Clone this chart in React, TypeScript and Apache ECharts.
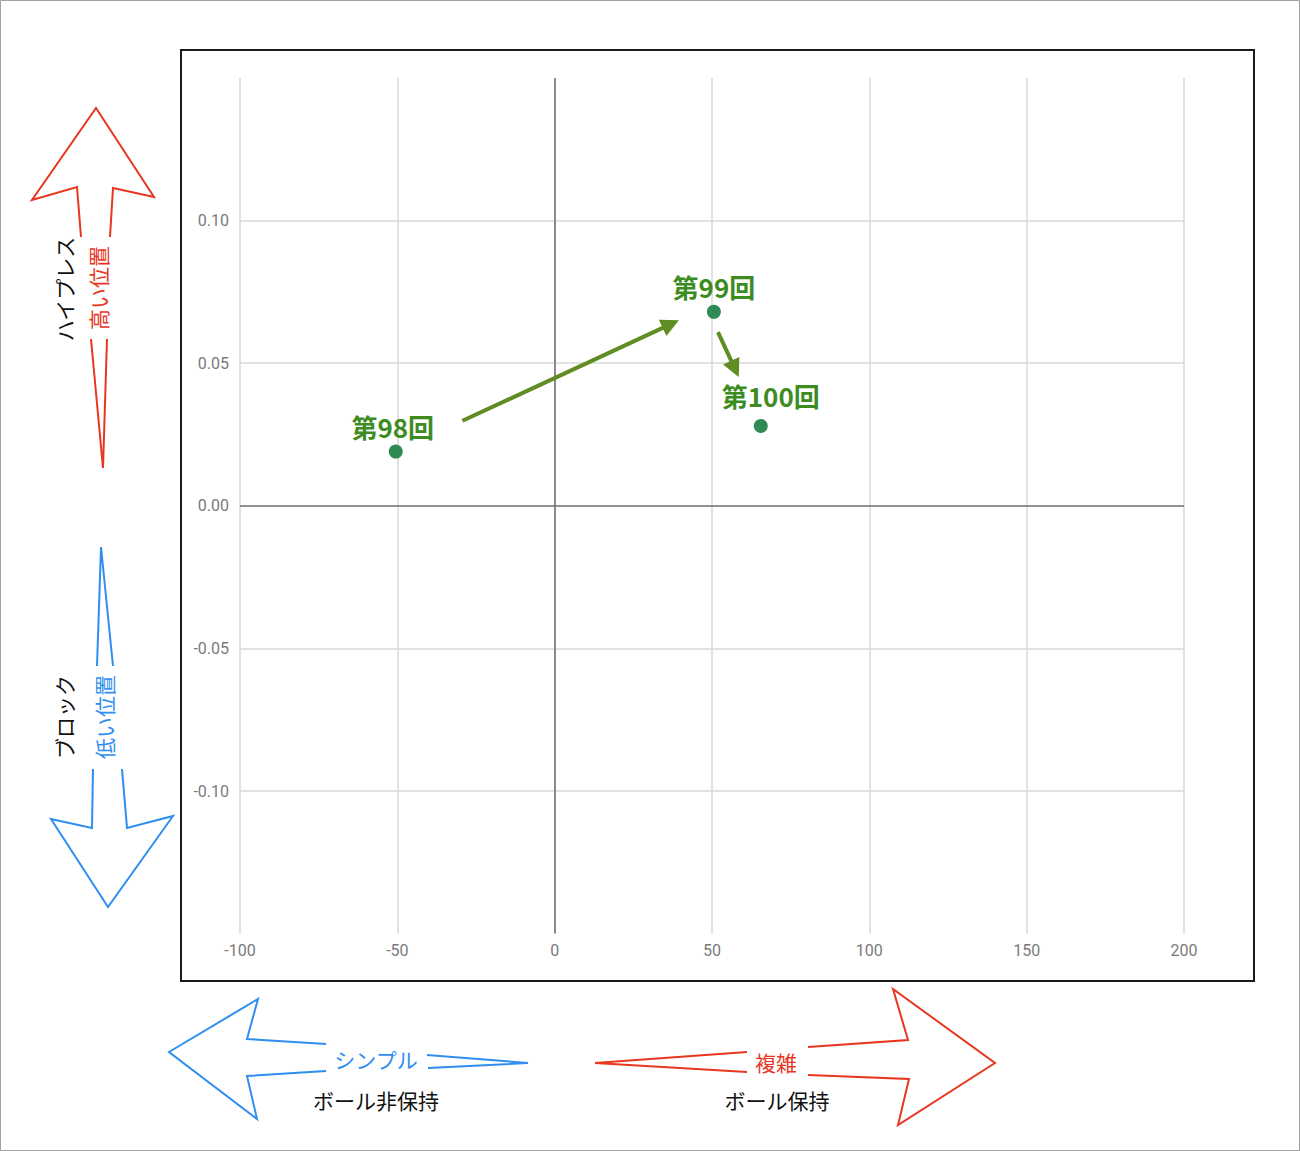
import React, { useEffect, useRef } from "react";
import * as echarts from "echarts";

// ---- data ----
const rounds = ["第98回", "第99回", "第100回"];
const complexity = [-50.5, 50.6, 65.5]; // x: シンプル ← → 複雑
const highPress = [0.019, 0.068, 0.028]; // y: 低い位置 ↓ ↑ 高い位置
const xRange = [-100, 200];
const xStep = 50;
const yRange = [-0.15, 0.15];
const yStep = 0.05;
const yGridValues = [0.1, 0.05, -0.05, -0.1];
// movement arrows between rounds (data coordinates: start → end)
const moveArrows = [
  [[-29.3, 0.0298], [36.9, 0.0637]],
  [[51.9, 0.0609], [57.3, 0.048]],
];

const RED = "#e8361f";
const BLUE = "#2f8ef0";
const JP = '"Noto Sans CJK JP", "Noto Sans", sans-serif';

type P = [number, number];
const poly = (pts: P[], color: string) => ({
  type: "polyline",
  shape: { points: pts },
  style: { stroke: color, lineWidth: 2, fill: null, lineJoin: "miter" },
  silent: true,
});
const txt = (x: number, y: number, text: string, color: string, rot = 0, size = 21) => ({
  type: "text",
  x,
  y,
  rotation: rot,
  style: {
    text,
    fill: color,
    font: `${size}px ${JP}`,
    align: "center",
    verticalAlign: "middle",
  },
  silent: true,
});

export default function App() {
  const ref = useRef<HTMLDivElement>(null);
  useEffect(() => {
    document.body.style.margin = "0";
    const chart = echarts.init(ref.current!, null, { renderer: "svg" });
    const points = rounds.map((name, i) => ({
      name,
      value: [complexity[i], highPress[i]],
      label: i === 2 ? { offset: [10, -5] } : i === 0 ? { offset: [-3, 0] } : {},
    }));
    chart.setOption({
      animation: false,
      backgroundColor: "#ffffff",
      grid: { left: 240, right: 116, top: 78, bottom: 217.4 },
      xAxis: {
        type: "value",
        min: xRange[0],
        max: xRange[1],
        interval: xStep,
        axisLine: { show: false },
        axisTick: { show: false },
        axisLabel: { color: "#7a7a7a", fontSize: 16, fontFamily: "Roboto", margin: 9 },
        splitLine: { show: true, lineStyle: { color: "#d8d8d8", width: 1.5 } },
      },
      yAxis: {
        type: "value",
        min: yRange[0],
        max: yRange[1],
        interval: yStep,
        axisLine: { show: false },
        axisTick: { show: false },
        axisLabel: {
          color: "#7a7a7a",
          fontSize: 16,
          fontFamily: "Roboto",
          margin: 11,
          showMinLabel: false,
          showMaxLabel: false,
          formatter: (v: number) => (Math.abs(v) < 1e-9 ? "0.00" : v.toFixed(2)),
        },
        splitLine: { show: false },
      },
      series: [
        {
          type: "scatter",
          data: [],
          z: 1,
          silent: true,
          markLine: {
            silent: true,
            symbol: "none",
            label: { show: false },
            animation: false,
            data: [
              ...yGridValues.map((v) => ({
                yAxis: v,
                lineStyle: { color: "#d8d8d8", width: 1.5, type: "solid" },
              })),
              { yAxis: 0, lineStyle: { color: "#6e6e6e", width: 1.5, type: "solid" } },
              { xAxis: 0, lineStyle: { color: "#6e6e6e", width: 1.5, type: "solid" } },
            ],
          },
        },
        {
          type: "scatter",
          data: [],
          z: 2,
          silent: true,
          markLine: {
            silent: true,
            symbol: ["none", "triangle"],
            symbolSize: [18, 18],
            label: { show: false },
            animation: false,
            lineStyle: { color: "#5f8d23", width: 4, type: "solid" },
            itemStyle: { color: "#5f8d23" },
            data: moveArrows.map(([a, b]) => [{ coord: a }, { coord: b }]),
          },
        },
        {
          type: "scatter",
          z: 5,
          symbolSize: 14,
          itemStyle: { color: "#2f8a55", opacity: 1 },
          label: {
            show: true,
            position: "top",
            distance: 5,
            formatter: "{b}",
            color: "#3d8c1f",
            fontSize: 26,
            fontWeight: "bold",
            fontFamily: JP,
          },
          data: points,
        },
      ],
      graphic: [
        // outer frame
        {
          type: "rect",
          shape: { x: 0.5, y: 0.5, width: 1299, height: 1150 },
          style: { stroke: "#a0a0a0", lineWidth: 1, fill: null },
          silent: true,
        },
        // chart box
        {
          type: "rect",
          shape: { x: 181, y: 50, width: 1073, height: 931 },
          style: { stroke: "#1a1a1a", lineWidth: 2, fill: null },
          silent: true,
        },
        // up arrow (red)
        poly([[110, 237], [113, 188], [154, 197], [96, 108], [32, 200], [77, 187], [81, 237]], RED),
        poly([[91, 339], [103, 468], [107, 339]], RED),
        txt(64, 289, "ハイプレス", "#111111", Math.PI / 2),
        txt(98, 288, "高い位置", RED, Math.PI / 2),
        // down arrow (blue)
        poly([[97, 666], [101, 547], [113, 666]], BLUE),
        poly([[93, 769], [92, 828], [51, 819], [108, 907], [173, 816], [127, 828], [122, 769]], BLUE),
        txt(64, 717, "ブロック", "#111111", Math.PI / 2),
        txt(104, 717, "低い位置", BLUE, Math.PI / 2),
        // left arrow (blue)
        poly([[326, 1044], [247, 1039], [258, 999], [169, 1052], [257, 1119], [247, 1076], [326, 1071]], BLUE),
        poly([[427, 1055], [528, 1063], [428, 1068]], BLUE),
        txt(376, 1059, "シンプル", BLUE),
        txt(376, 1100, "ボール非保持", "#111111"),
        // right arrow (red)
        poly([[747, 1052], [595, 1063], [747, 1072]], RED),
        poly([[808, 1047], [908, 1040], [893, 989], [995, 1063], [898, 1125], [909, 1079], [808, 1075]], RED),
        txt(776, 1062, "複雑", RED),
        txt(777, 1100, "ボール保持", "#111111"),
      ],
    });
    return () => chart.dispose();
  }, []);
  return <div ref={ref} style={{ width: 1300, height: 1151 }} />;
}
